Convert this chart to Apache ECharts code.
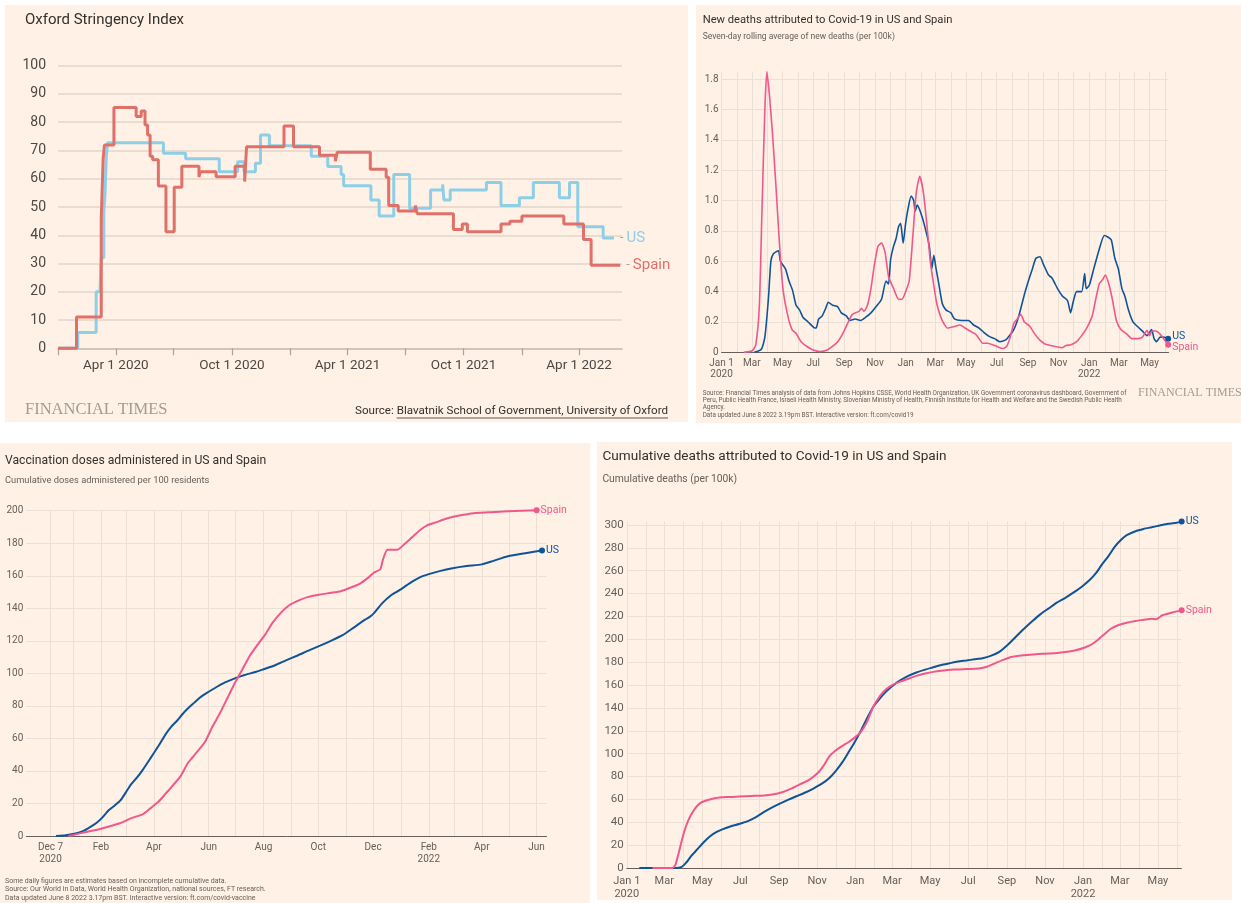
<!DOCTYPE html>
<html lang="en">
<head>
<meta charset="UTF-8">
<title>Covid-19 in US and Spain</title>
<script src="https://cdn.jsdelivr.net/npm/echarts@6.0.0/dist/echarts.min.js"></script>
<style>
  html, body { margin: 0; padding: 0; width: 1241px; height: 903px; background: #ffffff; overflow: hidden; }
  .panel { position: absolute; background: #fff1e5; }
  #oxford { left: 5px; top: 5px; width: 683px; height: 417px; }
  #daily { left: 696px; top: 5px; width: 545px; height: 418px; }
  #vaccine { left: 0; top: 443px; width: 590px; height: 460px; }
  #cumulative { left: 597px; top: 442px; width: 635px; height: 458px; }
</style>
</head>
<body>
<div id="oxford" class="panel"></div>
<div id="daily" class="panel"></div>
<div id="vaccine" class="panel"></div>
<div id="cumulative" class="panel"></div>
<script>
// ---- data (x = days since the series' start date, y = value) ----
// Oxford stringency index, days since 1 Jan 2020
var usStringency = [[0,0],[31,5.6],[60,20],[66,20],[68,32],[72,48],[74,55],[76,68],[78,72.7],[166,69],[201,67.1],[254,62.5],[283,66],[293,62.5],[311,65.5],[319,75.5],[333,71.7],[399,68],[425,64.3],[446,61.5],[450,57.5],[493,52.5],[506,46.8],[529,61.5],[554,49.6],[587,56],[606,58],[608,52.5],[618,56],[675,58.7],[698,50.5],[727,53.3],[749,58.7],[790,53.3],[806,58.7],[819,43],[859,39],[876,39]];
var spainStringency = [[0,0],[29,11.1],[68,46],[71,67],[73,71.9],[88,85.2],[123,82],[131,84],[137,79],[141,75.5],[145,68],[149,66.7],[158,57.4],[170,41.2],[183,57],[195,64.4],[222,60.6],[224,62.5],[249,60.7],[279,64.4],[294,59],[297,71.3],[356,78.7],[371,71.3],[412,68.3],[437,66.2],[440,69.4],[492,63.4],[517,60.5],[521,50.5],[536,48.6],[563,50.5],[566,47.6],[623,42],[637,44],[645,41.2],[698,44],[712,45],[731,46.8],[797,44],[828,38.5],[840,29.4],[886,29.4]];

// new deaths, 7-day average per 100k, days since 1 Jan 2020
var usNewDeaths = [[65,0],[79,0.02],[86,0.1],[93,0.35],[98,0.6],[103,0.65],[113,0.67],[117,0.6],[127,0.55],[134,0.47],[141,0.41],[148,0.31],[155,0.28],[162,0.23],[172,0.2],[183,0.165],[188,0.16],[193,0.22],[200,0.24],[207,0.29],[212,0.33],[221,0.31],[231,0.3],[238,0.26],[248,0.24],[255,0.21],[266,0.22],[276,0.21],[286,0.23],[297,0.26],[307,0.3],[318,0.35],[327,0.47],[332,0.45],[336,0.61],[342,0.7],[347,0.75],[352,0.83],[356,0.85],[361,0.72],[366,0.85],[371,0.95],[377,1.03],[382,1.0],[385,0.93],[389,0.97],[396,0.92],[404,0.83],[413,0.7],[418,0.55],[422,0.64],[426,0.56],[432,0.45],[439,0.32],[446,0.28],[456,0.26],[463,0.22],[477,0.21],[491,0.21],[501,0.18],[512,0.16],[522,0.13],[532,0.105],[543,0.09],[553,0.07],[564,0.08],[570,0.1],[581,0.15],[591,0.24],[602,0.38],[611,0.48],[618,0.55],[625,0.62],[633,0.63],[640,0.58],[650,0.51],[657,0.49],[668,0.42],[678,0.37],[688,0.34],[694,0.26],[699,0.33],[706,0.4],[716,0.4],[722,0.52],[725,0.42],[731,0.44],[740,0.55],[751,0.68],[761,0.77],[768,0.76],[775,0.74],[782,0.62],[789,0.55],[796,0.42],[802,0.37],[809,0.28],[818,0.2],[827,0.17],[837,0.14],[846,0.11],[855,0.15],[860,0.09],[865,0.07],[872,0.1],[879,0.1],[888,0.09]];
var spainNewDeaths = [[44,0],[61,0.01],[68,0.05],[75,0.3],[80,0.9],[86,1.6],[90,1.85],[95,1.7],[101,1.45],[108,1.1],[115,0.72],[122,0.42],[131,0.25],[140,0.15],[148,0.125],[158,0.07],[169,0.04],[182,0.015],[196,0.005],[210,0.015],[221,0.04],[231,0.07],[242,0.13],[252,0.2],[260,0.25],[273,0.27],[278,0.29],[283,0.27],[290,0.31],[297,0.42],[304,0.58],[311,0.7],[318,0.72],[325,0.66],[332,0.5],[342,0.42],[352,0.35],[359,0.35],[366,0.4],[373,0.47],[380,0.75],[387,1.05],[394,1.16],[401,1.06],[408,0.85],[415,0.6],[422,0.44],[428,0.32],[435,0.24],[442,0.19],[449,0.16],[463,0.17],[474,0.18],[484,0.16],[494,0.14],[505,0.12],[512,0.09],[519,0.06],[529,0.06],[543,0.045],[553,0.03],[560,0.025],[567,0.04],[574,0.1],[581,0.19],[588,0.22],[595,0.25],[602,0.2],[612,0.175],[623,0.12],[633,0.08],[643,0.055],[654,0.045],[668,0.035],[678,0.03],[685,0.045],[695,0.05],[706,0.07],[716,0.11],[726,0.16],[737,0.24],[744,0.35],[751,0.45],[758,0.48],[763,0.51],[770,0.45],[777,0.35],[785,0.21],[794,0.15],[806,0.12],[816,0.09],[827,0.09],[837,0.1],[846,0.145],[851,0.11],[856,0.14],[863,0.14],[872,0.12],[879,0.09],[888,0.05]];

// vaccination doses per 100 residents, days since 7 Dec 2020
var usDoses = [[6,0],[17,0.5],[28,1.5],[36,3],[44,5.5],[51,8],[57,11],[65,16],[72,19],[78,22],[84,27],[90,32],[97,36.5],[103,41],[109,46],[115,51],[122,57],[128,62.5],[134,67],[141,71],[147,75],[153,78.5],[160,82],[166,85],[174,88],[183,91],[191,93.5],[199,95.5],[208,97.5],[216,99],[229,101],[237,102.5],[250,105],[262,108],[275,111],[287,114],[300,117],[312,120],[325,123.5],[337,128],[350,133],[356,135],[360,137],[369,143],[379,148],[388,151],[400,155.5],[411,159],[421,161],[434,163],[446,164.5],[463,166],[480,167],[492,169],[509,172],[530,174],[547,175.5]];
var spainDoses = [[20,0],[28,1],[40,2.5],[53,4],[65,5.8],[78,8],[90,11],[103,13.5],[111,17],[120,21],[128,26],[136,31],[145,37],[153,45],[162,51],[172,58],[180,67],[189,76],[197,85],[206,95],[214,103],[222,111],[231,118],[239,124],[247,131],[256,137],[266,142],[277,145],[287,147],[300,148.5],[312,149.5],[323,150.5],[333,152.5],[344,155],[354,159],[360,162],[367,164],[370,170],[375,176],[386,176],[394,179.5],[402,183.5],[411,188],[419,191],[430,193],[440,195],[455,197],[471,198.5],[488,199],[509,199.7],[541,200.3]];

// cumulative deaths per 100k, days since 1 Jan 2020
var usCumDeaths = [[20,0],[78,0],[88,1],[94,4],[104,11],[114,17],[124,23],[134,28],[144,31.5],[154,34],[167,36.5],[180,38.5],[194,41],[207,44.5],[220,49],[233,53],[246,56.5],[260,60],[273,63],[286,66],[299,69.5],[312,73.5],[325,79],[335,85],[346,93],[355,101],[365,110],[375,120],[385,131],[395,141],[405,148],[415,154],[425,159],[438,164],[451,168],[464,171],[478,173.5],[491,175.5],[504,177.5],[517,179],[530,180.5],[544,181.5],[557,182.5],[570,183.5],[583,185.5],[597,189],[610,195],[623,202],[636,209],[650,216],[663,222],[676,227],[689,232],[702,236],[716,241],[729,246],[742,252],[752,258],[762,266],[772,273],[782,281],[792,287],[801,291],[815,294.5],[828,296.5],[841,298],[854,299.5],[867,301],[881,302],[889,302.9]];
var spainCumDeaths = [[41,0],[73,0],[78,3],[84,15],[91,30],[98,41],[108,51],[117,56.5],[127,59],[141,61],[160,62],[180,62.5],[200,63],[220,63.5],[240,65],[253,67],[266,70],[279,73.5],[292,77],[306,83],[316,90],[325,98],[335,103],[346,107],[355,110],[365,114],[375,119],[385,128],[395,141],[405,150],[415,156],[425,160],[438,163],[451,165.5],[464,168],[478,170],[491,171.5],[504,172.5],[524,173.5],[544,174],[564,174.5],[577,176],[590,179],[603,182],[616,184.5],[636,186],[656,187],[676,187.5],[696,188.5],[716,190],[735,193],[749,197],[762,203],[775,209],[788,212.5],[801,214.5],[815,216],[828,217],[841,218],[848,217.5],[858,221],[874,223.5],[889,225.3]];

// tick labels
var oxfordTicks = ['2020-01-01','2020-04-01','2020-07-01','2020-10-01','2021-01-01','2021-04-01','2021-07-01','2021-10-01','2022-01-01','2022-04-01'];
var oxfordTickLabels = ['', 'Apr 1 2020', '', 'Oct 1 2020', '', 'Apr 1 2021', '', 'Oct 1 2021', '', 'Apr 1 2022'];
var deathTicks = ['2020-01-01','2020-03-01','2020-05-01','2020-07-01','2020-09-01','2020-11-01','2021-01-01','2021-03-01','2021-05-01','2021-07-01','2021-09-01','2021-11-01','2022-01-01','2022-03-01','2022-05-01'];
var deathTickLabels = ['Jan 1\n2020','Mar','May','Jul','Sep','Nov','Jan','Mar','May','Jul','Sep','Nov','Jan\n2022','Mar','May'];
var vaxTicks = ['2020-12-07','2021-02-01','2021-04-01','2021-06-01','2021-08-01','2021-10-01','2021-12-01','2022-02-01','2022-04-01','2022-06-01'];
var vaxTickLabels = ['Dec 7\n2020','Feb','Apr','Jun','Aug','Oct','Dec','Feb\n2022','Apr','Jun'];
var dailyYTicks = [0, 0.2, 0.4, 0.6, 0.8, 1.0, 1.2, 1.4, 1.6, 1.8];
var cumYTicks = [0, 20, 40, 60, 80, 100, 120, 140, 160, 180, 200, 220, 240, 260, 280, 300];

var FONT = 'Roboto';
var DAY = 864e5;
var START_2020 = Date.UTC(2020, 0, 1);
var START_VAX = Date.UTC(2020, 11, 7);

var US_LIGHT = '#8dcfe6', SPAIN_RED = '#e0716a';
var US_BLUE = '#0f5499', SPAIN_PINK = '#f0588c';
var GRID = '#ebe0d6';

function utc(s) { var p = s.split('-'); return Date.UTC(+p[0], +p[1] - 1, +p[2]); }
function toTime(base, pairs) { return pairs.map(function (p) { return [base + p[0] * DAY, p[1]]; }); }
function monthStarts(y0, m0, y1, m1) {
    var out = [];
    var y = y0, m = m0;
    while (y < y1 || (y === y1 && m <= m1)) {
        out.push(Date.UTC(y, m - 1, 1));
        m++;
        if (m > 12) { m = 1; y++; }
    }
    return out;
}
function labelFormatter(dates, labels) {
    var nums = dates.map(utc);
    return function (v) {
        for (var i = 0; i < nums.length; i++) { if (Math.abs(nums[i] - v) < 1000) return labels[i]; }
        return '';
    };
}
function measure(text, font) {
    var ctx = document.createElement('canvas').getContext('2d');
    ctx.font = font;
    return ctx.measureText(text).width;
}
function txt(text, x, y, size, color, opts) {
    opts = opts || {};
    return {
        type: 'text', x: x, y: y, silent: true,
        style: {
            text: text, fontSize: size, fontFamily: opts.family || FONT, fontWeight: opts.weight || 'normal',
            fill: color, align: opts.align || 'left', textAlign: opts.align || 'left',
            verticalAlign: 'middle', textVerticalAlign: 'middle'
        }
    };
}

// ---------- chart 1: Oxford stringency ----------
var oxfordChart = echarts.init(document.getElementById('oxford'));
var srcLink = 'Blavatnik School of Government, University of Oxford';
var srcLinkW = measure(srcLink, '11.6px ' + FONT);

function stepSeries(name, data, color) {
    return {
        name: name, type: 'line', step: 'end', showSymbol: false, clip: false,
        data: toTime(START_2020, data),
        lineStyle: { color: color, width: 3 },
        emphasis: { disabled: true },
        endLabel: {
            show: true, distance: 6,
            formatter: '{d|-} {n|' + name + '}',
            rich: { d: { color: '#a8a29d', fontSize: 13, fontFamily: FONT }, n: { color: color, fontSize: 15, fontFamily: FONT } }
        }
    };
}

oxfordChart.setOption({
    animation: false,
    textStyle: { fontFamily: FONT },
    grid: { left: 53.1, top: 60.7, width: 563.9, height: 282.6 },
    xAxis: {
        type: 'value', min: START_2020, max: START_2020 + 888.7 * DAY,
        axisLine: { lineStyle: { color: '#c6bcb3', width: 1.5 } },
        axisTick: { show: true, length: 7, lineStyle: { color: '#aaa29b', width: 1.2 }, customValues: oxfordTicks.map(utc) },
        axisLabel: {
            customValues: oxfordTicks.filter(function (d, i) { return oxfordTickLabels[i]; }).map(utc),
            formatter: labelFormatter(oxfordTicks, oxfordTickLabels),
            fontSize: 13.5, color: '#4d4845', margin: 10
        },
        splitLine: { show: false }
    },
    yAxis: {
        type: 'value', min: 0, max: 100, interval: 10,
        axisLine: { show: false }, axisTick: { show: false },
        axisLabel: { fontSize: 14, color: '#4d4845', margin: 12 },
        splitLine: { lineStyle: { color: '#e2d6cb', width: 1.5 } }
    },
    series: [stepSeries('US', usStringency, US_LIGHT), stepSeries('Spain', spainStringency, SPAIN_RED)],
    graphic: [
        txt('Oxford Stringency Index', 20, 15.7, 15, '#33302e'),
        txt('FINANCIAL TIMES', 20, 405, 16.5, '#a39b94', { family: 'Liberation Serif' }),
        txt(srcLink, 663, 406, 11.6, '#33302e', { align: 'right' }),
        txt('Source: ', 663 - srcLinkW, 406, 11.6, '#33302e', { align: 'right' }),
        { type: 'line', silent: true, shape: { x1: 663 - srcLinkW, y1: 413, x2: 663, y2: 413 }, style: { stroke: '#33302e', lineWidth: 0.8 } }
    ]
});

// ---------- shared builder for the FT line charts ----------
function ftSeries(name, data, color, width, offset) {
    return {
        name: name, type: 'line', data: data, smooth: 0.2, clip: false,
        symbol: 'circle', showSymbol: true,
        symbolSize: function (v, p) { return p.dataIndex === data.length - 1 ? 6 : 0; },
        lineStyle: { color: color, width: width }, itemStyle: { color: color },
        emphasis: { disabled: true },
        endLabel: { show: true, formatter: name, color: color, fontSize: 10.5, fontFamily: FONT, distance: 4, offset: offset }
    };
}

function ftXAxis(min, max, gridTicks, labelDates, labels, fontSize, margin) {
    return {
        type: 'value', min: min, max: max,
        axisLine: { lineStyle: { color: '#66605c', width: 1 } },
        axisTick: { show: false, customValues: gridTicks },
        axisLabel: {
            customValues: labelDates.map(utc),
            formatter: labelFormatter(labelDates, labels),
            fontSize: fontSize, color: '#66605c', margin: margin, lineHeight: fontSize + 1.5
        },
        splitLine: { show: true, lineStyle: { color: GRID, width: 1 } }
    };
}

function ftYAxis(min, max, ticks, fontSize, formatter) {
    return {
        type: 'value', min: min, max: max,
        axisLine: { show: false },
        axisTick: { show: false, customValues: ticks },
        axisLabel: { customValues: ticks, fontSize: fontSize, color: '#66605c', margin: 3, formatter: formatter },
        splitLine: { lineStyle: { color: GRID, width: 1 } }
    };
}

// ---------- chart 2: new deaths ----------
var dailyChart = echarts.init(document.getElementById('daily'));
dailyChart.setOption({
    animation: false,
    textStyle: { fontFamily: FONT },
    grid: { left: 25.6, top: 66.7, width: 446.9, height: 280.6 },
    xAxis: ftXAxis(START_2020, START_2020 + 888.7 * DAY, monthStarts(2020, 1, 2022, 6), deathTicks, deathTickLabels, 10, 5),
    yAxis: ftYAxis(0, 1.85, dailyYTicks, 10, function (v) { return v === 0 ? '0' : v.toFixed(1); }),
    series: [
        ftSeries('US', toTime(START_2020, usNewDeaths), US_BLUE, 1.6, [0, -2]),
        ftSeries('Spain', toTime(START_2020, spainNewDeaths), SPAIN_PINK, 1.6, [0, 3])
    ],
    graphic: [
        txt('New deaths attributed to Covid-19 in US and Spain', 6.7, 15, 11.2, '#33302e'),
        txt('Seven-day rolling average of new deaths (per 100k)', 6.7, 32.3, 8.5, '#66605c'),
        txt('Source: Financial Times analysis of data from Johns Hopkins CSSE, World Health Organization, UK Government coronavirus dashboard, Government of', 6.7, 388, 6.35, '#66605c'),
        txt('Peru, Public Health France, Israeli Health Ministry, Slovenian Ministry of Health, Finnish Institute for Health and Welfare and the Swedish Public Health', 6.7, 395.3, 6.35, '#66605c'),
        txt('Agency.', 6.7, 402.6, 6.35, '#66605c'),
        txt('Data updated June 8 2022 3.19pm BST. Interactive version: ft.com/covid19', 6.7, 410, 6.35, '#66605c'),
        txt('FINANCIAL TIMES', 442, 388, 12, '#a39b94', { family: 'Liberation Serif' })
    ]
});

// ---------- chart 3: vaccination ----------
var vaxChart = echarts.init(document.getElementById('vaccine'));
var vaxGrid = [START_VAX].concat(monthStarts(2021, 1, 2022, 6));
vaxChart.setOption({
    animation: false,
    textStyle: { fontFamily: FONT },
    grid: { left: 26.3, top: 67.7, width: 520.2, height: 325.3 },
    xAxis: ftXAxis(START_VAX - 27 * DAY, START_VAX + 552 * DAY, vaxGrid, vaxTicks, vaxTickLabels, 10, 6),
    yAxis: { type: 'value', min: 0, max: 200, interval: 20,
        axisLine: { show: false }, axisTick: { show: false },
        axisLabel: { fontSize: 10, color: '#66605c', margin: 3 },
        splitLine: { lineStyle: { color: GRID, width: 1 } } },
    series: [
        ftSeries('US', toTime(START_VAX, usDoses), US_BLUE, 2, [0, 0]),
        ftSeries('Spain', toTime(START_VAX, spainDoses), SPAIN_PINK, 2, [0, 0])
    ],
    graphic: [
        txt('Vaccination doses administered in US and Spain', 5, 17.7, 12.2, '#33302e'),
        txt('Cumulative doses administered per 100 residents', 5, 37.7, 9.3, '#66605c'),
        txt('Some daily figures are estimates based on incomplete cumulative data.', 5, 438, 7, '#66605c'),
        txt('Source: Our World in Data, World Health Organization, national sources, FT research.', 5, 446.7, 7, '#66605c'),
        txt('Data updated June 8 2022 3.17pm BST. Interactive version: ft.com/covid-vaccine', 5, 455.3, 7, '#66605c')
    ]
});

// ---------- chart 4: cumulative deaths ----------
var cumChart = echarts.init(document.getElementById('cumulative'));
cumChart.setOption({
    animation: false,
    textStyle: { fontFamily: FONT },
    grid: { left: 29.8, top: 79.5, width: 554.6, height: 349.5 },
    xAxis: ftXAxis(START_2020, START_2020 + 888.6 * DAY, monthStarts(2020, 1, 2022, 6), deathTicks, deathTickLabels, 11, 7),
    yAxis: ftYAxis(0, 303, cumYTicks, 11.5),
    series: [
        ftSeries('US', toTime(START_2020, usCumDeaths), US_BLUE, 2, [0, 0]),
        ftSeries('Spain', toTime(START_2020, spainCumDeaths), SPAIN_PINK, 2, [0, 0])
    ],
    graphic: [
        txt('Cumulative deaths attributed to Covid-19 in US and Spain', 5.4, 14.7, 13.6, '#33302e'),
        txt('Cumulative deaths (per 100k)', 5.4, 37, 10.3, '#66605c')
    ]
});
</script>
</body>
</html>
